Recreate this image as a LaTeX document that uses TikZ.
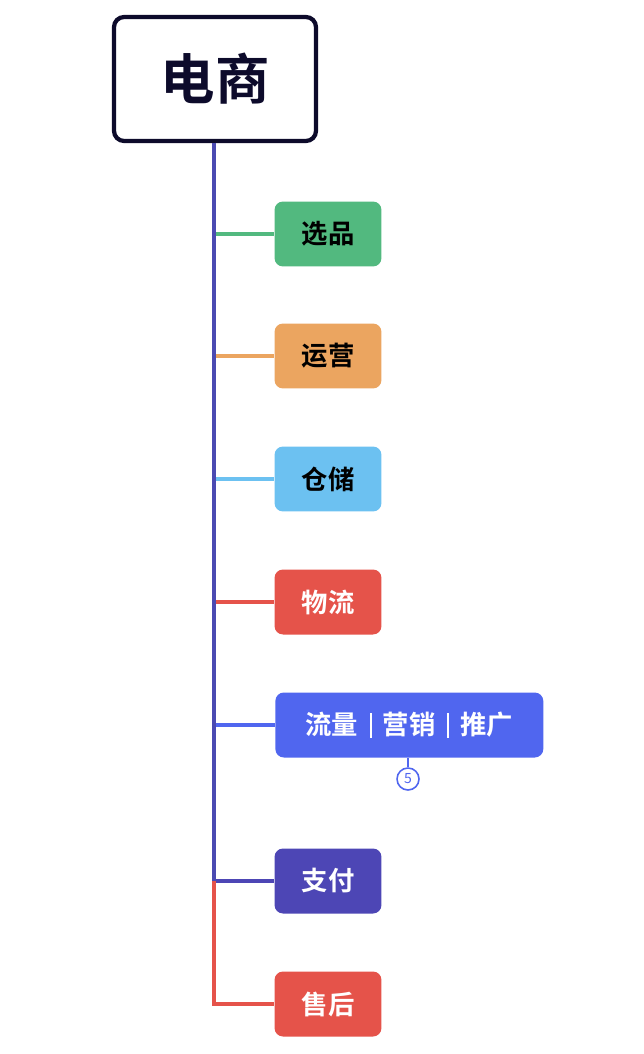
\documentclass[tikz,border=0pt]{standalone}
\usepackage{fontspec}
\setmainfont{Noto Sans CJK SC}
\newfontfamily\cjkb{Noto Sans CJK SC Bold}
\definecolor{rootline}{HTML}{0D0B2B}
\definecolor{trunkc}{HTML}{4B4AB2}
\definecolor{cxp}{HTML}{52B97F}
\definecolor{cyy}{HTML}{EBA560}
\definecolor{ccc}{HTML}{6CC1F1}
\definecolor{cwl}{HTML}{E5534A}
\definecolor{cll}{HTML}{5066EF}
\definecolor{czf}{HTML}{4D46B5}
\definecolor{csh}{HTML}{E5534A}
\newcommand{\sepbar}{\hspace{6.5pt}\rule[-0.12em]{1.1pt}{0.95em}\hspace{6.5pt}}
\begin{document}
\begin{tikzpicture}[x=0.02cm,y=-0.02cm,
    item/.style={rounded corners=0.17cm,minimum width=2.14cm,minimum height=1.3cm,
        inner sep=0pt,font=\cjkb\fontsize{15}{17}\selectfont},
    branch/.style={line width=1.8pt},
    trunk/.style={line width=2.4pt,trunkc}]
\useasboundingbox (0,0) rectangle (643,1054);
% root
    \node[draw=rootline,line width=2.4pt,rounded corners=0.2cm,fill=white,
        minimum width=4.04cm,minimum height=2.48cm,font=\cjkb\fontsize{31}{34}\selectfont,
        text=rootline] (root) at (215,79) {电商};
% children
    \node[item,fill=cxp,text=black] (xp) at (328,234) {选品};
    \node[item,fill=cyy,text=black] (yy) at (328,356) {运营};
    \node[item,fill=ccc,text=black] (cc) at (328,479) {仓储};
    \node[item,fill=cwl,text=white] (wl) at (328,602) {物流};
    \node[item,fill=cll,text=white,minimum width=5.36cm,anchor=west] (ll) at (275,725) {流量\sepbar 营销\sepbar 推广};
    \node[item,fill=czf,text=white] (zf) at (328,881) {支付};
    \node[item,fill=csh,text=white] (sh) at (328,1004) {售后};
    \node[circle,draw=cll,line width=0.9pt,minimum size=0.44cm,inner sep=0pt,
        text=cll,font=\fontsize{8}{9}\selectfont] (num) at (408,779) {5};
% joints on the trunk
    \coordinate (jxp) at (214,234);
    \coordinate (jyy) at (214,356);
    \coordinate (jcc) at (214,479);
    \coordinate (jwl) at (214,602);
    \coordinate (jll) at (214,725);
    \coordinate (jzf) at (214,881);
    \coordinate (jsh) at (214,1004);
% lines
    \draw[branch,cxp] (jxp)--(xp.west);
    \draw[branch,cyy] (jyy)--(yy.west);
    \draw[branch,ccc] (jcc)--(cc.west);
    \draw[branch,cwl] (jwl)--(wl.west);
    \draw[branch,cll] (jll)--(ll.west);
    \draw[branch,czf] (jzf)--(zf.west);
    \draw[trunk] (jzf |- root.south)--(jzf);
    \draw[trunk,csh] (jzf)--(jsh)--(sh.west);
    \draw[line width=1.5pt,cll] (ll.south -| num)--(num.north);
\end{tikzpicture}
\end{document}
